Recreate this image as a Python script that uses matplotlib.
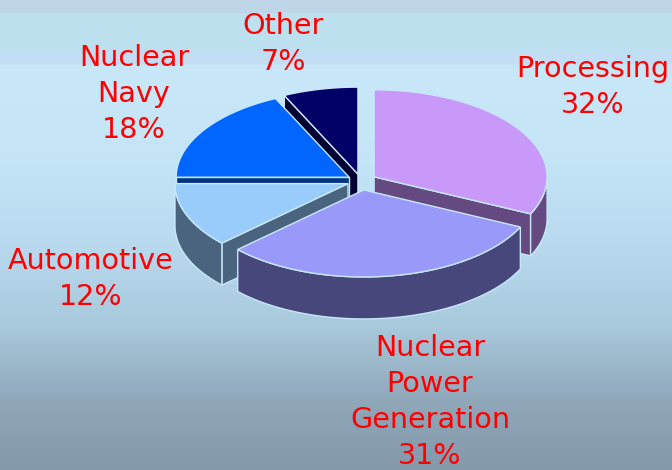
import numpy as np
import matplotlib
matplotlib.use('Agg')
from matplotlib import pyplot as plt
from matplotlib.colors import LinearSegmentedColormap

# values in clockwise order starting from 12 o'clock
labels = ['Processing', 'Nuclear\nPower\nGeneration', 'Automotive', 'Nuclear\nNavy', 'Other']
values = [32, 31, 12, 18, 7]
explode = [15.5, 18, 14, 14, 14]

top_colors = ['#c899f8', '#9999fa', '#99ccfa', '#0066ff', '#000066']
wall_colors = ['#644a80', '#47477c', '#4a6480', '#003380', '#000033']
edge_color = '#c8e8f8'
text_color = '#ff0000'

# back to front, so that nearer slices hide the walls behind them
draw_order = [4, 3, 0, 2, 1]

bg_stops = [0.0, 0.025, 0.028, 0.105, 0.11, 0.135, 0.14, 0.3, 0.5, 0.7, 0.85, 1.0]
bg_colors = ['#bfd5e8', '#bfd5e8', '#bde0ee', '#bde0f0', '#c2def4', '#c4dff5',
             '#c8e8f8', '#c6e6f8', '#bbdcf0', '#a8c8dc', '#90a8ba', '#8499aa']

cx, cy = 361, 181
rx, ry = 173, 87
depth = 42


def slice_points(center, start, end):
    theta = np.radians(np.linspace(start, end, 80))
    return center[0] + rx * np.cos(theta), center[1] - ry * np.sin(theta)


def draw_slice(ax, center, start, end, top, wall):
    x, y = slice_points(center, start, end)

    # cut faces, only those turned towards the viewer
    if np.cos(np.radians(start)) < -1e-6:
        ax.fill([center[0], x[0], x[0], center[0]],
                [center[1], y[0], y[0] + depth, center[1] + depth],
                facecolor=wall, edgecolor=edge_color, linewidth=1)
    if np.cos(np.radians(end)) > 1e-6:
        ax.fill([center[0], x[-1], x[-1], center[0]],
                [center[1], y[-1], y[-1] + depth, center[1] + depth],
                facecolor=wall, edgecolor=edge_color, linewidth=1)

    # outer wall, only the part facing the viewer
    low, high = min(start, end), max(start, end)
    vis_start, vis_end = max(low, -180), min(high, 0)
    if vis_end > vis_start:
        wx, wy = slice_points(center, vis_start, vis_end)
        ax.fill(np.r_[wx, wx[::-1]], np.r_[wy, wy[::-1] + depth],
                facecolor=wall, edgecolor=edge_color, linewidth=1)

    ax.fill(np.r_[center[0], x], np.r_[center[1], y],
            facecolor=top, edgecolor=edge_color, linewidth=1)


def plot_pie(ax):
    shares = np.array(values) / sum(values) * 360
    ends = 90 - np.cumsum(shares)
    starts = ends + shares

    for i in draw_order:
        mid = np.radians((starts[i] + ends[i]) / 2)
        center = (cx + explode[i] * np.cos(mid), cy - explode[i] * ry / rx * np.sin(mid))
        draw_slice(ax, center, starts[i], ends[i], top_colors[i], wall_colors[i])


fig = plt.figure(figsize=(6.72, 4.70), dpi=100)
ax = fig.add_axes([0, 0, 1, 1])

cmap = LinearSegmentedColormap.from_list('bg', list(zip(bg_stops, bg_colors)), N=470)
ax.imshow(np.linspace(0, 1, 470).reshape(-1, 1), cmap=cmap, aspect='auto', extent=(0, 672, 470, 0))

plot_pie(ax)

label_pos = [(593, 87), (430, 402), (91, 279), (134, 94), (283, 44)]
for name, val, pos in zip(labels, values, label_pos):
    ax.text(pos[0], pos[1], f'{name}\n{val}%', color=text_color, fontsize=20.6,
            family='DejaVu Sans', ha='center', va='center', linespacing=1.35)

ax.set_xlim(0, 672)
ax.set_ylim(470, 0)
ax.axis('off')

fig.savefig('out.png', dpi=100)
